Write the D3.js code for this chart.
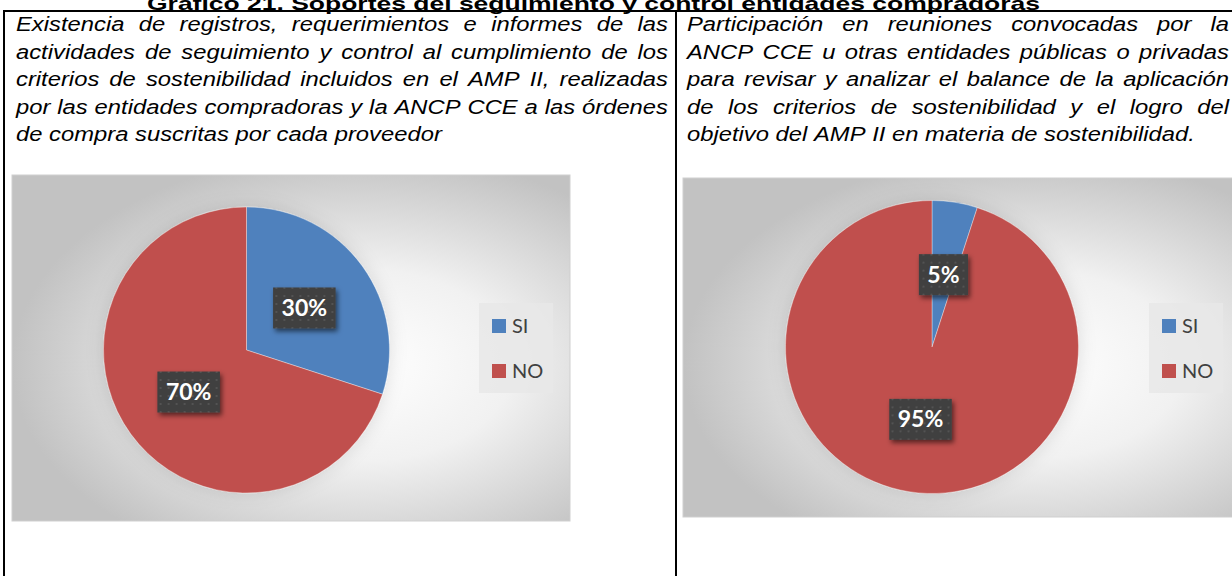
<!DOCTYPE html>
<html>
<head>
<meta charset="utf-8">
<script src="https://cdn.jsdelivr.net/npm/d3@7"></script>
<style>
  html, body { margin: 0; padding: 0; background: #fff; }
  svg { display: block; }
</style>
</head>
<body>
<svg id="chart" width="1232" height="576"></svg>
<script>
// data
var titleText = 'Gráfico 21. Soportes del seguimiento y control entidades compradoras';
var leftLines = [
  'Existencia de registros, requerimientos e informes de las',
  'actividades de seguimiento y control al cumplimiento de los',
  'criterios de sostenibilidad incluidos en el AMP II, realizadas',
  'por las entidades compradoras y la ANCP CCE a las órdenes',
  'de compra suscritas por cada proveedor'
];
var rightLines = [
  'Participación en reuniones convocadas por la',
  'ANCP CCE u otras entidades públicas o privadas',
  'para revisar y analizar el balance de la aplicación',
  'de los criterios de sostenibilidad y el logro del',
  'objetivo del AMP II en materia de sostenibilidad.'
];
var categories = ['SI', 'NO'];
var registrosValues = [30, 70];
var reunionesValues = [5, 95];

var svg = d3.select('#chart');
var defs = svg.append('defs');

// text of the document is stretched sideways in the screenshot
var FONT = 19.5;
var SX = 1.22;

// background gradient of the excel chart area
var grad = defs.append('radialGradient')
  .attr('id', 'chart-bg')
  .attr('cx', 0.62).attr('cy', 0.55).attr('r', 0.62)
  .attr('fx', 0.62).attr('fy', 0.55);
grad.append('stop').attr('offset', '0%').attr('stop-color', '#ffffff');
grad.append('stop').attr('offset', '45%').attr('stop-color', '#f1f1f1');
grad.append('stop').attr('offset', '100%').attr('stop-color', '#c2c2c2');

var dots = defs.append('pattern')
  .attr('id', 'dots')
  .attr('width', 8).attr('height', 8)
  .attr('patternUnits', 'userSpaceOnUse');
dots.append('rect').attr('width', 8).attr('height', 8).attr('fill', '#404040');
dots.append('circle').attr('cx', 4).attr('cy', 4).attr('r', 1).attr('fill', '#585858');

defs.append('filter').attr('id', 'label-shadow')
  .attr('x', '-30%').attr('y', '-30%').attr('width', '170%').attr('height', '170%')
  .append('feDropShadow')
  .attr('dx', 2).attr('dy', 3).attr('stdDeviation', 2.5)
  .attr('flood-color', '#000').attr('flood-opacity', 0.55);

defs.append('filter').attr('id', 'pie-shadow')
  .attr('x', '-20%').attr('y', '-20%').attr('width', '140%').attr('height', '140%')
  .append('feDropShadow')
  .attr('dx', 0).attr('dy', 0).attr('stdDeviation', 9)
  .attr('flood-color', '#000').attr('flood-opacity', 0.12);

// title (its top is cut off in the reference too)
svg.append('text')
  .attr('x', 147).attr('y', 10)
  .attr('textLength', 893)
  .attr('lengthAdjust', 'spacingAndGlyphs')
  .style('font-family', '"Liberation Sans", Arial, sans-serif')
  .style('font-weight', 'bold')
  .style('font-size', '19px')
  .attr('fill', '#000')
  .text(titleText);

function drawCell(lines, x0, x1, y0, step) {
  var avail = (x1 - x0) / SX;
  lines.forEach(function(line, i) {
    var words = line.split(' ');
    var last = i === lines.length - 1;
    var g = svg.append('g')
      .attr('transform', 'translate(' + x0 + ',' + (y0 + i * step) + ') scale(' + SX + ',1)')
      .style('font-family', '"Liberation Sans", Arial, sans-serif')
      .style('font-style', 'italic')
      .style('font-size', FONT + 'px')
      .attr('fill', '#000');
    var nodes = words.map(function(w) { return g.append('text').text(w); });
    var widths = nodes.map(function(n) { return n.node().getComputedTextLength(); });
    var gap = last ? FONT * 0.278 : (avail - d3.sum(widths)) / (words.length - 1);
    var x = 0;
    nodes.forEach(function(n, j) {
      n.attr('x', x);
      x += widths[j] + gap;
    });
  });
}

drawCell(leftLines, 16, 668, 31, 27.5);
drawCell(rightLines, 687, 1229, 31, 27.5);

var color = d3.scaleOrdinal().domain(categories).range(['#4f81bd', '#c0504d']);
var pctFormat = d3.format('.0%');

var panels = [
  { values: registrosValues, box: { x: 12, y: 175, w: 558, h: 346 }, cx: 246.5, cy: 350, r: 143, legend: { x: 479, y: 303 } },
  { values: reunionesValues, box: { x: 683, y: 178, w: 557, h: 339 }, cx: 932, cy: 347, r: 146.5, legend: { x: 1149, y: 303 } }
];

panels.forEach(function(p) {
  var g = svg.append('g');
  g.append('rect')
    .attr('x', p.box.x).attr('y', p.box.y)
    .attr('width', p.box.w).attr('height', p.box.h)
    .attr('fill', 'url(#chart-bg)')
    .attr('stroke', '#cfcfcf').attr('stroke-width', 1);

  var data = categories.map(function(c, i) { return { name: c, value: p.values[i] }; });
  var total = d3.sum(p.values);
  var pie = d3.pie().sort(null).value(function(d) { return d.value; });
  var arc = d3.arc().innerRadius(0).outerRadius(p.r);
  var arcs = pie(data);

  var pg = g.append('g').attr('transform', 'translate(' + p.cx + ',' + p.cy + ')');
  pg.append('g').attr('filter', 'url(#pie-shadow)')
    .selectAll('path')
    .data(arcs)
    .enter()
    .append('path')
    .attr('d', arc)
    .attr('fill', function(d) { return color(d.data.name); })
    .attr('stroke', 'rgba(255,255,255,0.5)')
    .attr('stroke-width', 0.7);

  // data labels
  var labels = pg.selectAll('g.lbl')
    .data(arcs)
    .enter()
    .append('g')
    .attr('class', 'lbl')
    .attr('transform', function(d) { return 'translate(' + arc.centroid(d) + ')'; });
  labels.append('rect')
    .attr('fill', 'url(#dots)')
    .attr('filter', 'url(#label-shadow)');
  var texts = labels.append('text')
    .attr('text-anchor', 'middle')
    .attr('dy', '0.35em')
    .style('font-family', 'Lato, "Open Sans", sans-serif')
    .style('font-weight', 'bold')
    .style('font-size', '23px')
    .attr('fill', '#fff')
    .text(function(d) { return pctFormat(d.data.value / total); });
  texts.each(function(d) {
    var w = this.getComputedTextLength() + 17;
    d3.select(this.parentNode).select('rect')
      .attr('x', -w / 2).attr('y', -20.5)
      .attr('width', w).attr('height', 41);
  });

  // legend
  var lg = g.append('g').attr('transform', 'translate(' + p.legend.x + ',' + p.legend.y + ')');
  lg.append('rect')
    .attr('width', 74).attr('height', 90)
    .attr('fill', '#e8e8e8').attr('fill-opacity', 0.85);
  var items = lg.selectAll('g.item')
    .data(categories)
    .enter()
    .append('g')
    .attr('class', 'item')
    .attr('transform', function(d, i) { return 'translate(13,' + (16 + i * 45) + ')'; });
  items.append('rect')
    .attr('width', 14).attr('height', 14)
    .attr('fill', function(d) { return color(d); });
  items.append('text')
    .attr('x', 20).attr('y', 14)
    .style('font-family', 'Lato, "Open Sans", sans-serif')
    .style('font-size', '20px')
    .attr('fill', '#404040')
    .text(function(d) { return d; });
});

// table borders
svg.append('line').attr('x1', 3).attr('x2', 1232).attr('y1', 11).attr('y2', 11)
  .attr('stroke', '#000').attr('stroke-width', 2);
svg.append('line').attr('x1', 4).attr('x2', 4).attr('y1', 10).attr('y2', 576)
  .attr('stroke', '#000').attr('stroke-width', 2);
svg.append('line').attr('x1', 676).attr('x2', 676).attr('y1', 10).attr('y2', 576)
  .attr('stroke', '#000').attr('stroke-width', 2);
</script>
</body>
</html>
